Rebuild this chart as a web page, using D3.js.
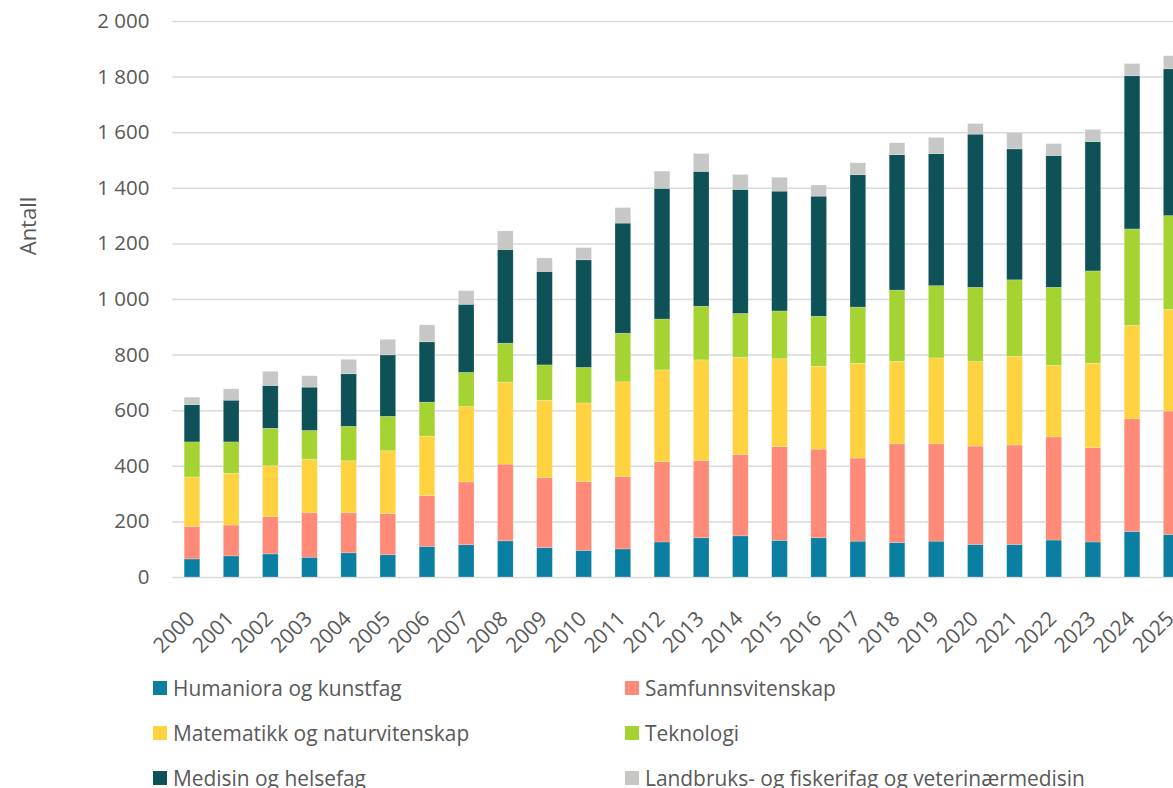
<!DOCTYPE html>
<html lang="no">
<head>
  <meta charset="UTF-8">
  <title>Antall etter fagområde</title>
  <script src="https://d3js.org/d3.v7.min.js"></script>
  <style>
    html, body {
      margin: 0;
      padding: 0;
      background: #fff;
      overflow: hidden;
    }
    svg {
      display: block;
      font-family: "Open Sans", sans-serif;
    }
  </style>
</head>
<body>
  <svg width="1173" height="788"></svg>
  <script>
    const years = ["2000", "2001", "2002", "2003", "2004", "2005", "2006", "2007", "2008", "2009",
                   "2010", "2011", "2012", "2013", "2014", "2015", "2016", "2017", "2018", "2019",
                   "2020", "2021", "2022", "2023", "2024", "2025"];

    const seriesNames = ["Humaniora og kunstfag", "Samfunnsvitenskap", "Matematikk og naturvitenskap",
                         "Teknologi", "Medisin og helsefag", "Landbruks- og fiskerifag og veterinærmedisin"];

    const humaniora  = [65, 76, 83, 71, 87, 80, 110, 116, 130, 106, 96, 101, 126, 141, 148, 132, 141, 129, 124, 129, 117, 117, 133, 126, 164, 153];
    const samfunn    = [117, 111, 134, 160, 144, 148, 183, 226, 276, 251, 247, 260, 289, 278, 293, 337, 319, 299, 355, 350, 354, 358, 371, 339, 405, 444];
    const matnat     = [178, 186, 183, 193, 187, 226, 214, 271, 295, 279, 283, 341, 330, 362, 349, 316, 298, 341, 297, 309, 304, 319, 257, 304, 336, 366];
    const teknologi  = [126, 113, 135, 103, 124, 124, 122, 123, 140, 127, 128, 175, 183, 193, 158, 172, 180, 202, 256, 260, 267, 275, 281, 332, 347, 337];
    const medisin    = [134, 150, 154, 156, 189, 221, 217, 245, 337, 336, 387, 396, 470, 485, 446, 431, 432, 476, 487, 475, 551, 471, 474, 465, 551, 528];
    const landbruk   = [27, 41, 51, 41, 52, 56, 61, 49, 67, 49, 44, 56, 62, 64, 54, 50, 40, 43, 43, 58, 38, 58, 43, 44, 44, 47];

    const yTicks = [0, 200, 400, 600, 800, 1000, 1200, 1400, 1600, 1800, 2000];

    const colors = ["#0b7fa1", "#ff8a78", "#ffd33f", "#a5d332", "#0e5258", "#c7c8c6"];

    const svg = d3.select("svg");
    const textColor = "#595959";

    // build table for the stack
    const table = years.map((y, i) => ({
      year: y,
      [seriesNames[0]]: humaniora[i],
      [seriesNames[1]]: samfunn[i],
      [seriesNames[2]]: matnat[i],
      [seriesNames[3]]: teknologi[i],
      [seriesNames[4]]: medisin[i],
      [seriesNames[5]]: landbruk[i]
    }));
    const stacked = d3.stack().keys(seriesNames)(table);

    const x = d3.scaleBand().domain(years).range([172.4, 1190.8]).paddingInner(0.6).paddingOuter(0.3);
    const y = d3.scaleLinear().domain([0, 2000]).range([577, 21]);
    const color = d3.scaleOrdinal().domain(seriesNames).range(colors);

    const fmt = d => d3.format(",")(d).replace(/,/g, "\u00a0");

    // gridlines + y labels
    const yAxis = d3.axisLeft(y).tickValues(yTicks).tickSize(-(1190.8 - 172.4)).tickPadding(23).tickFormat(fmt);
    svg.append("g")
      .attr("transform", "translate(172.4,0)")
      .call(yAxis)
      .call(g => g.select(".domain").remove())
      .call(g => g.selectAll(".tick line").attr("stroke", "#d9d9d9").attr("stroke-width", 1.5))
      .call(g => g.selectAll(".tick text")
        .attr("fill", textColor)
        .attr("font-size", "20.5px")
        .attr("font-family", "Open Sans, sans-serif"));

    // bars
    svg.append("g")
      .selectAll("g")
      .data(stacked)
      .enter()
      .append("g")
      .attr("fill", d => color(d.key))
      .selectAll("rect")
      .data(d => d)
      .enter()
      .append("rect")
      .attr("x", d => x(d.data.year))
      .attr("y", d => y(d[1]))
      .attr("width", x.bandwidth())
      .attr("height", d => y(d[0]) - y(d[1]))
      .attr("stroke", "#ffffff")
      .attr("stroke-opacity", 0.35)
      .attr("stroke-width", 0.6);

    // x labels, rotated
    svg.append("g")
      .selectAll("text")
      .data(years)
      .enter()
      .append("text")
      .attr("transform", d => `translate(${x(d) + x.bandwidth() / 2 + 4},${620}) rotate(-45)`)
      .attr("text-anchor", "end")
      .attr("fill", textColor)
      .attr("font-size", "21px")
      .text(d => d);

    // y title
    svg.append("text")
      .attr("transform", "translate(36,226) rotate(-90)")
      .attr("text-anchor", "middle")
      .attr("fill", textColor)
      .attr("font-size", "22px")
      .text("Antall");

    // legend, two columns
    const legendX = [153, 625];
    const legendY = [688, 733, 778];
    const legend = svg.append("g")
      .selectAll("g")
      .data(seriesNames)
      .enter()
      .append("g")
      .attr("transform", (d, i) => `translate(${legendX[i % 2]},${legendY[Math.floor(i / 2)]})`);

    legend.append("rect")
      .attr("x", 0)
      .attr("y", -7)
      .attr("width", 14)
      .attr("height", 14)
      .attr("fill", d => color(d));

    legend.append("text")
      .attr("x", 20)
      .attr("y", 7.5)
      .attr("fill", textColor)
      .attr("font-size", "20.9px")
      .text(d => d);
  </script>
</body>
</html>
